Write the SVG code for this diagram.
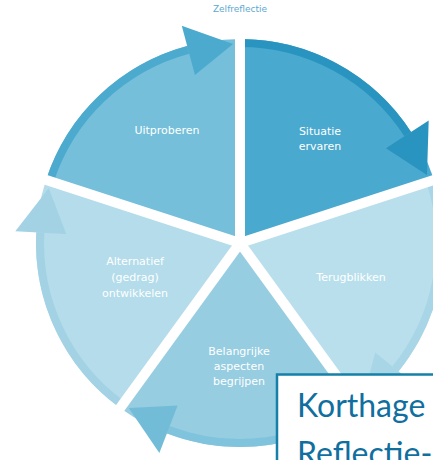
<svg xmlns="http://www.w3.org/2000/svg" width="433" height="460" viewBox="0 0 433 460">
<style>
.lbl{font-family:"DejaVu Sans",sans-serif;font-size:11px;fill:#ffffff;text-anchor:middle}
.band{fill:none;stroke-width:8}
.gap{stroke:#ffffff;stroke-width:10;fill:none}
</style>
<rect width="433" height="460" fill="#ffffff"/>
<text x="240" y="12" style="font-family:'DejaVu Sans',sans-serif;font-size:9px;fill:#5BAAD0;text-anchor:middle">Zelfreflectie</text>

<g id="node-situatie">
<path d="M240,243 L240,39 A204,204 0 0 1 434.02,179.96 Z" fill="#4AA9CE"/>
<path class="band" stroke="#2A94C0" d="M240,43 A200,200 0 0 1 407.73,134.07"/>
</g>
<g id="node-terugblikken">
<path d="M240,243 L434.02,179.96 A204,204 0 0 1 359.91,408.04 Z" fill="#B9DFEC"/>
<path class="band" stroke="#A8D6E7" d="M430.21,181.2 A200,200 0 0 1 395.43,368.86"/>
</g>
<g id="node-belangrijke">
<path d="M240,243 L359.91,408.04 A204,204 0 0 1 120.09,408.04 Z" fill="#97CDE1"/>
<path class="band" stroke="#80C3DC" d="M357.56,404.8 A200,200 0 0 1 168.33,429.72"/>
</g>
<g id="node-alternatief">
<path d="M240,243 L120.09,408.04 A204,204 0 0 1 45.98,179.96 Z" fill="#B4DCEA"/>
<path class="band" stroke="#A2D2E4" d="M122.44,404.8 A200,200 0 0 1 40.27,232.53"/>
</g>
<g id="node-uitproberen">
<path d="M240,243 L45.98,179.96 A204,204 0 0 1 240,39 Z" fill="#75BFDA"/>
<path class="band" stroke="#4DAACF" d="M49.79,181.2 A200,200 0 0 1 188.24,49.81"/>
</g>

<g id="connectors">
<line class="gap" x1="240" y1="243" x2="240" y2="30"/>
<line class="gap" x1="240" y1="243" x2="444.5" y2="176.6"/>
<line class="gap" x1="240" y1="243" x2="366.4" y2="417"/>
<line class="gap" x1="240" y1="243" x2="113.6" y2="417"/>
<line class="gap" x1="240" y1="243" x2="35.5" y2="176.6"/>
<polygon points="385.93,148.23 428.7,120.46 427,174.94" fill="#2A94C0"/>
<polygon points="375.22,352.5 414.86,384.6 362.52,399.81" fill="#A8D6E7"/>
<polygon points="177.64,405.44 159.37,453.06 128.72,407.98" fill="#73BCD8"/>
<polygon points="66.24,233.89 15.31,231.22 48.71,188.15" fill="#A2D2E4"/>
<polygon points="194.97,74.93 181.77,25.67 233.05,44.12" fill="#4DAACF"/>
</g>

<g id="labels">
<text class="lbl" x="320" y="135">Situatie</text>
<text class="lbl" x="320" y="150">ervaren</text>
<text class="lbl" x="351" y="281">Terugblikken</text>
<text class="lbl" x="239" y="355">Belangrijke</text>
<text class="lbl" x="239" y="370">aspecten</text>
<text class="lbl" x="239" y="385">begrijpen</text>
<text class="lbl" x="135" y="265">Alternatief</text>
<text class="lbl" x="135" y="281">(gedrag)</text>
<text class="lbl" x="135" y="297">ontwikkelen</text>
<text class="lbl" x="167" y="134">Uitproberen</text>
</g>

<g id="node-caption">
<rect x="277" y="374.5" width="200" height="120" fill="#ffffff" stroke="#1580A8" stroke-width="2.5"/>
<text x="297" y="417" style="font-family:Lato,'Liberation Sans',sans-serif;font-size:32px;fill:#106F9F">Korthage</text>
<text x="297" y="465" style="font-family:Lato,'Liberation Sans',sans-serif;font-size:32px;fill:#106F9F">Reflectie-</text>
</g>
</svg>
